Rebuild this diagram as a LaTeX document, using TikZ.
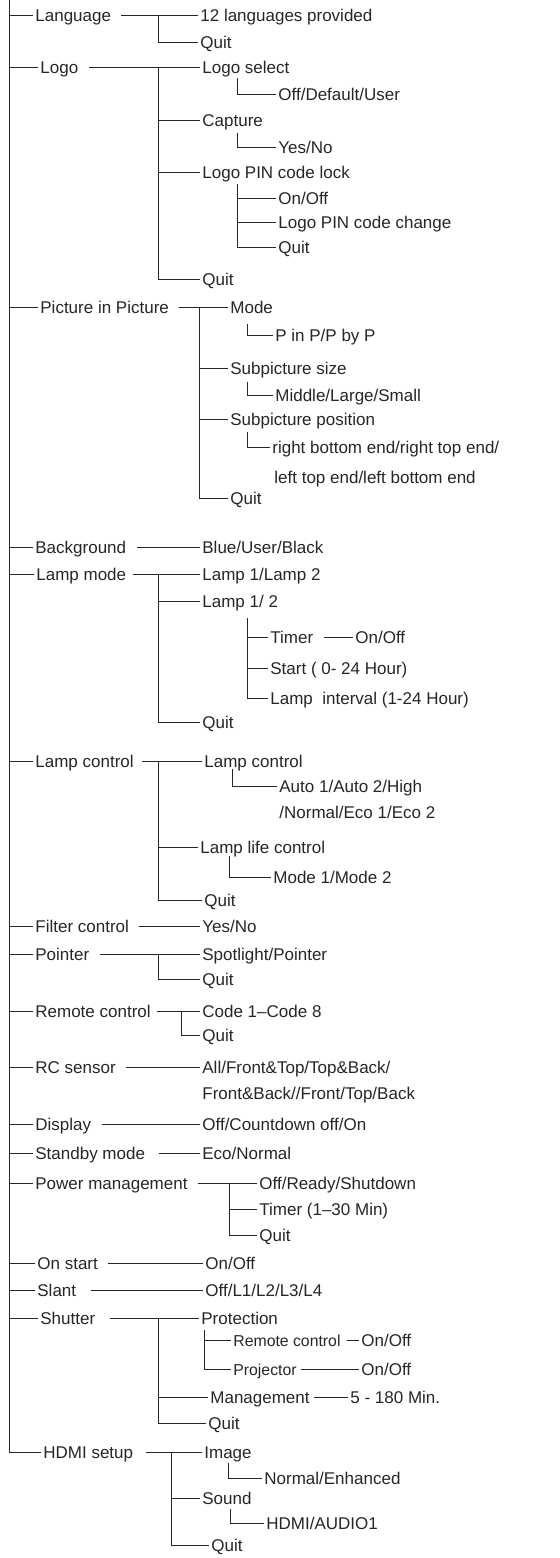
\documentclass[tikz,border=0pt]{standalone}
\usepackage{fontspec}
\setmainfont{Liberation Sans}
\usetikzlibrary{positioning}
\tikzset{
  item/.style={anchor=west, inner xsep=1pt, inner ysep=0pt, text height=6.1pt, text depth=0pt,
    text=black!85, font=\fontsize{8.5}{10}\selectfont},
  subitem/.style={item, font=\fontsize{7.9}{10}\selectfont},
  wire/.style={line width=0.5pt, black!85}
}

\begin{document}
\begin{tikzpicture}[x=0.5pt, y=-0.5pt]
        \useasboundingbox (0,0) rectangle (560,1558);
        \coordinate (trunk) at (9,0);
        % first level
        \node[item] (lang) at (33,15) {Language};
        \node[item] (logo) at (38,67) {Logo};
        \node[item] (pip) at (38,307) {Picture in Picture};
        \node[item] (bg) at (33,547) {Background};
        \node[item] (lampm) at (34,574) {Lamp mode};
        \node[item] (lampc) at (33,761) {Lamp control};
        \node[item] (filt) at (33,926) {Filter control};
        \node[item] (pnt) at (33,954) {Pointer};
        \node[item] (remc) at (33,1011) {Remote control};
        \node[item] (rcs) at (33,1067) {RC sensor};
        \node[item] (disp) at (33,1124) {Display};
        \node[item] (stby) at (33,1153) {Standby mode};
        \node[item] (pwr) at (33,1183) {Power management};
        \node[item] (onst) at (35,1263) {On start};
        \node[item] (slant) at (35,1290) {Slant};
        \node[item] (shut) at (38,1318) {Shutter};
        \node[item] (hdmi) at (41,1452) {HDMI setup};
        \draw[wire] (trunk) |- (hdmi.west);
        \draw[wire] (trunk |- lang.west) -- (lang.west);
        \draw[wire] (trunk |- logo.west) -- (logo.west);
        \draw[wire] (trunk |- pip.west) -- (pip.west);
        \draw[wire] (trunk |- bg.west) -- (bg.west);
        \draw[wire] (trunk |- lampm.west) -- (lampm.west);
        \draw[wire] (trunk |- lampc.west) -- (lampc.west);
        \draw[wire] (trunk |- filt.west) -- (filt.west);
        \draw[wire] (trunk |- pnt.west) -- (pnt.west);
        \draw[wire] (trunk |- remc.west) -- (remc.west);
        \draw[wire] (trunk |- rcs.west) -- (rcs.west);
        \draw[wire] (trunk |- disp.west) -- (disp.west);
        \draw[wire] (trunk |- stby.west) -- (stby.west);
        \draw[wire] (trunk |- pwr.west) -- (pwr.west);
        \draw[wire] (trunk |- onst.west) -- (onst.west);
        \draw[wire] (trunk |- slant.west) -- (slant.west);
        \draw[wire] (trunk |- shut.west) -- (shut.west);

        % Language
        \node[item] (l12) at (198,15) {12 languages provided};
        \node[item] (lquit) at (198,42) {Quit};
        \coordinate (langbar) at (158,15);
        \draw[wire] ([xshift=4pt]lang.east) -- (l12.west);
        \draw[wire] (langbar) |- (lquit.west);

        % Logo
        \node[item] (lsel) at (200,67) {Logo select};
        \node[item] (ldef) at (276,94) {Off/Default/User};
        \node[item] (capt) at (200,120) {Capture};
        \node[item] (cyn) at (276,147) {Yes/No};
        \node[item] (lpin) at (200,172) {Logo PIN code lock};
        \node[item] (lon) at (276,198) {On/Off};
        \node[item] (lchg) at (276,222) {Logo PIN code change};
        \node[item] (lpq) at (276,247) {Quit};
        \node[item] (loquit) at (200,279) {Quit};
        \coordinate (logobar) at (158,67);
        \draw[wire] ([xshift=4pt]logo.east) -- (lsel.west);
        \draw[wire] (logobar) |- (loquit.west);
        \draw[wire] (logobar |- capt.west) -- (capt.west);
        \draw[wire] (logobar |- lpin.west) -- (lpin.west);
        \draw[wire] ([xshift=18.5pt,yshift=-5.5pt]lsel.west) |- (ldef.west);
        \draw[wire] ([xshift=18.5pt,yshift=-6.5pt]capt.west) |- (cyn.west);
        \coordinate (pinbar) at ([xshift=18.5pt,yshift=-6pt]lpin.west);
        \draw[wire] (pinbar) |- (lpq.west);
        \draw[wire] (pinbar |- lon.west) -- (lon.west);
        \draw[wire] (pinbar |- lchg.west) -- (lchg.west);

        % Picture in Picture
        \node[item] (pmode) at (228,307) {Mode};
        \node[item] (ppp) at (273,335) {P in P/P by P};
        \node[item] (psize) at (228,368) {Subpicture size};
        \node[item] (pmls) at (273,395) {Middle/Large/Small};
        \node[item] (ppos) at (228,419) {Subpicture position};
        \node[item] (prb) at (270,447) {right bottom end/right top end/};
        \node[item] (prb2) at (272,477) {left top end/left bottom end};
        \node[item] (pquit) at (228,498) {Quit};
        \coordinate (pipbar) at (199,307);
        \draw[wire] ([xshift=4pt]pip.east) -- (pmode.west);
        \draw[wire] (pipbar) |- (pquit.west);
        \draw[wire] (pipbar |- psize.west) -- (psize.west);
        \draw[wire] (pipbar |- ppos.west) -- (ppos.west);
        \draw[wire] ([xshift=9.5pt,yshift=-8.5pt]pmode.west) |- (ppp.west);
        \draw[wire] ([xshift=9.5pt,yshift=-7pt]psize.west) |- (pmls.west);
        \draw[wire] ([xshift=9.5pt,yshift=-6.5pt]ppos.west) |- (prb.west);

        % Background
        \node[item] (bblue) at (200,547) {Blue/User/Black};
        \draw[wire] ([xshift=4pt]bg.east) -- (bblue.west);

        % Lamp mode
        \node[item] (lm12) at (200,574) {Lamp 1/Lamp 2};
        \node[item] (lm1) at (200,601) {Lamp 1/ 2};
        \node[item] (ltim) at (268,637) {Timer};
        \node[item] (ltoo) at (353,637) {On/Off};
        \node[item] (lstart) at (268,668) {Start ( 0- 24 Hour)};
        \node[item] (lint) at (268,698) {Lamp\ \ interval (1-24 Hour)};
        \node[item] (lmquit) at (200,722) {Quit};
        \coordinate (lampmbar) at (158,574);
        \draw[wire] ([xshift=2pt]lampm.east) -- (lm12.west);
        \draw[wire] (lampmbar) |- (lmquit.west);
        \draw[wire] (lampmbar |- lm1.west) -- (lm1.west);
        \coordinate (timbar) at ([xshift=23.5pt,yshift=-8.5pt]lm1.west);
        \draw[wire] (timbar) |- (lint.west);
        \draw[wire] (timbar |- ltim.west) -- (ltim.west);
        \draw[wire] (timbar |- lstart.west) -- (lstart.west);
        \draw[wire] ([xshift=4pt]ltim.east) -- (ltoo.west);

        % Lamp control
        \node[item] (lcsub) at (202,761) {Lamp control};
        \node[item] (lcauto) at (277,786) {Auto 1/Auto 2/High};
        \node[item] (lcauto2) at (277,812) {/Normal/Eco 1/Eco 2};
        \node[item] (lclife) at (198,847) {Lamp life control};
        \node[item] (lcmode) at (271,877) {Mode 1/Mode 2};
        \node[item] (lcquit) at (202,900) {Quit};
        \coordinate (lampcbar) at (158,761);
        \draw[wire] ([xshift=3pt]lampc.east) -- (lcsub.west);
        \draw[wire] (lampcbar) |- (lcquit.west);
        \draw[wire] (lampcbar |- lclife.west) -- (lclife.west);
        \draw[wire] ([xshift=15pt,yshift=-4pt]lcsub.west) |- (lcauto.west);
        \draw[wire] ([xshift=15.5pt,yshift=-4.5pt]lclife.west) |- (lcmode.west);

        % Filter control, Pointer, Remote control
        \node[item] (fyn) at (200,926) {Yes/No};
        \draw[wire] ([xshift=4pt]filt.east) -- (fyn.west);
        \node[item] (pspot) at (200,954) {Spotlight/Pointer};
        \node[item] (pnquit) at (200,979) {Quit};
        \coordinate (pntbar) at (158,954);
        \draw[wire] ([xshift=4pt]pnt.east) -- (pspot.west);
        \draw[wire] (pntbar) |- (pnquit.west);
        \node[item] (rcode) at (200,1011) {Code 1--Code 8};
        \node[item] (rquit) at (200,1035) {Quit};
        \coordinate (remcbar) at (181,1011);
        \draw[wire] ([xshift=2pt]remc.east) -- (rcode.west);
        \draw[wire] (remcbar) |- (rquit.west);

        % RC sensor, Display, Standby mode
        \node[item] (rcall) at (200,1067) {All/Front\&Top/Top\&Back/};
        \node[item] (rcall2) at (200,1093) {Front\&Back//Front/Top/Back};
        \draw[wire] ([xshift=4pt]rcs.east) -- (rcall.west);
        \node[item] (doff) at (200,1124) {Off/Countdown off/On};
        \draw[wire] ([xshift=4pt]disp.east) -- (doff.west);
        \node[item] (seco) at (200,1153) {Eco/Normal};
        \draw[wire] ([xshift=6pt]stby.east) -- (seco.west);

        % Power management
        \node[item] (poff) at (257,1183) {Off/Ready/Shutdown};
        \node[item] (ptim) at (257,1209) {Timer (1--30 Min)};
        \node[item] (pwquit) at (257,1235) {Quit};
        \coordinate (pwrbar) at (229,1183);
        \draw[wire] ([xshift=4pt]pwr.east) -- (poff.west);
        \draw[wire] (pwrbar) |- (pwquit.west);
        \draw[wire] (pwrbar |- ptim.west) -- (ptim.west);

        % On start, Slant
        \node[item] (oon) at (203,1263) {On/Off};
        \draw[wire] ([xshift=4pt]onst.east) -- (oon.west);
        \node[item] (soff) at (203,1290) {Off/L1/L2/L3/L4};
        \draw[wire] ([xshift=6pt]slant.east) -- (soff.west);

        % Shutter
        \node[item] (sprot) at (199,1318) {Protection};
        \node[subitem] (srem) at (231,1340) {Remote control};
        \node[item] (sron) at (359,1340) {On/Off};
        \node[subitem] (sproj) at (231,1369) {Projector};
        \node[item] (spon) at (359,1369) {On/Off};
        \node[item] (smgmt) at (208,1397) {Management};
        \node[item] (s5) at (348,1397) {5 - 180 Min.};
        \node[item] (squit) at (206,1423) {Quit};
        \coordinate (shutbar) at (158,1318);
        \draw[wire] ([xshift=6pt]shut.east) -- (sprot.west);
        \draw[wire] (shutbar) |- (squit.west);
        \draw[wire] (shutbar |- smgmt.west) -- (smgmt.west);
        \coordinate (protbar) at ([xshift=2.5pt,yshift=-6pt]sprot.west);
        \draw[wire] (protbar) |- (sproj.west);
        \draw[wire] (protbar |- srem.west) -- (srem.west);
        \draw[wire] ([xshift=2pt]srem.east) -- (sron.west);
        \draw[wire] ([xshift=1pt]sproj.east) -- (spon.west);
        \draw[wire] ([xshift=1pt]smgmt.east) -- (s5.west);

        % HDMI setup
        \node[item] (himg) at (202,1452) {Image};
        \node[item] (hnorm) at (262,1478) {Normal/Enhanced};
        \node[item] (hsnd) at (200,1498) {Sound};
        \node[item] (haud) at (264,1523) {HDMI/AUDIO1};
        \node[item] (hquit) at (209,1545) {Quit};
        \coordinate (hdmibar) at (171,1452);
        \draw[wire] ([xshift=5pt]hdmi.east) -- (himg.west);
        \draw[wire] (hdmibar) |- (hquit.west);
        \draw[wire] (hdmibar |- hsnd.west) -- (hsnd.west);
        \draw[wire] ([xshift=13pt,yshift=-5.5pt]himg.west) |- (hnorm.west);
        \draw[wire] ([xshift=15pt,yshift=-5.5pt]hsnd.west) |- (haud.west);
    \end{tikzpicture}
\end{document}
